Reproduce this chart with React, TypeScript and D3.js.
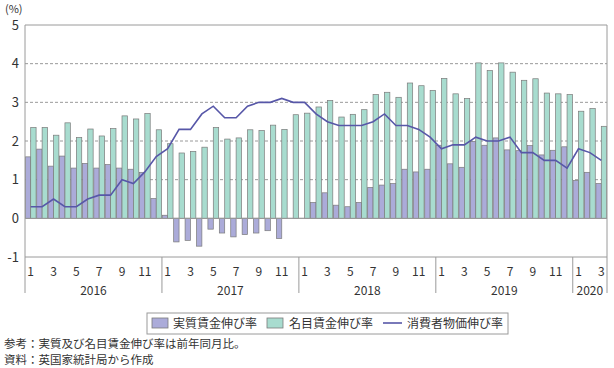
import React from 'react';
import * as d3 from 'd3';

const years = [2016, 2017, 2018, 2019, 2020];
const monthsPerYear = [12, 12, 12, 12, 3];

// 実質賃金伸び率 (Jan 2016 - Mar 2020)
const realWage = [
  1.59, 1.79, 1.35, 1.61, 1.30, 1.42, 1.30, 1.39, 1.30, 1.27, 1.19, 0.51,
  0.08, -0.61, -0.57, -0.72, -0.28, -0.38, -0.48, -0.42, -0.38, -0.32, -0.52, 0.0,
  0.0, 0.41, 0.66, 0.34, 0.30, 0.41, 0.80, 0.86, 0.90, 1.27, 1.20, 1.27,
  1.89, 1.41, 1.32, 1.99, 1.89, 2.08, 1.77, 1.75, 1.88, 1.64, 1.76, 1.85,
  0.98, 1.19, 0.90,
];

// 名目賃金伸び率
const nominalWage = [
  2.35, 2.35, 2.15, 2.47, 2.09, 2.31, 2.13, 2.32, 2.65, 2.57, 2.71, 2.29,
  1.93, 1.69, 1.73, 1.84, 2.35, 2.05, 2.08, 2.29, 2.27, 2.41, 2.30, 2.68,
  2.72, 2.88, 3.05, 2.62, 2.69, 2.81, 3.20, 3.26, 3.13, 3.50, 3.43, 3.31,
  3.62, 3.22, 3.10, 4.02, 3.82, 4.02, 3.78, 3.57, 3.61, 3.24, 3.22, 3.20,
  2.77, 2.84, 2.38,
];

// 消費者物価伸び率
const cpi = [
  0.3, 0.3, 0.5, 0.3, 0.3, 0.5, 0.6, 0.6, 1.0, 0.9, 1.2, 1.6,
  1.8, 2.3, 2.3, 2.7, 2.9, 2.6, 2.6, 2.9, 3.0, 3.0, 3.1, 3.0,
  3.0, 2.7, 2.5, 2.4, 2.4, 2.4, 2.5, 2.7, 2.4, 2.4, 2.3, 2.1,
  1.8, 1.9, 1.9, 2.1, 2.0, 2.0, 2.1, 1.7, 1.7, 1.5, 1.5, 1.3,
  1.8, 1.7, 1.5,
];

const yTicks = [-1, 0, 1, 2, 3, 4, 5];
const legendLabels = ['実質賃金伸び率', '名目賃金伸び率', '消費者物価伸び率'];
const notes = ['参考：実質及び名目賃金伸び率は前年同月比。', '資料：英国家統計局から作成'];

const colors = {
  real: '#ababd9',
  nominal: '#a8dccf',
  line: '#5757a8',
  barStroke: '#7a7a7a',
  axis: '#9a9a9a',
  text: '#333333',
};

const App = () => {
  const width = 614;
  const height = 368;
  const plot = { left: 25, right: 607, top: 25, bottom: 257 };

  const months: { year: number; month: number }[] = [];
  years.forEach((y, i) => {
    for (let m = 1; m <= monthsPerYear[i]; m++) months.push({ year: y, month: m });
  });
  const idx = months.map((_, i) => i);

  const x = d3.scaleBand<number>().domain(idx).range([plot.left, plot.right]).padding(0);
  const inner = d3.scaleBand<string>().domain(['real', 'nominal']).range([0, x.bandwidth()]).paddingOuter(0.06).paddingInner(0);
  const y = d3.scaleLinear().domain([-1, 5]).range([plot.bottom, plot.top]);

  const line = d3.line<number>()
    .x((_, i) => (x(i) as number) + x.bandwidth() / 2)
    .y(d => y(d));

  // year boundaries
  const yearStarts: number[] = [];
  let acc = 0;
  monthsPerYear.forEach(n => { yearStarts.push(acc); acc += n; });

  const font = '"Noto Sans CJK JP", "Noto Sans", sans-serif';

  return (
    <div style={{ position: 'absolute', left: 0, top: 0 }}>
      <svg width={width} height={height} style={{ display: 'block', fontFamily: font }}>
        <rect width={width} height={height} fill="#fff" />
        {/* grid */}
        {yTicks.map(t => (
          <line key={t} x1={plot.left} x2={plot.right} y1={y(t)} y2={y(t)}
            stroke={colors.axis}
            strokeDasharray={t === 0 || t === 5 || t === -1 ? undefined : '3 2'}
            strokeWidth={1} />
        ))}
        {yTicks.map(t => (
          <text key={'l' + t} x={19} y={y(t)} dy="0.35em" textAnchor="end" fontSize={13} fill={colors.text}>{t}</text>
        ))}
        <text x={5} y={13} fontSize={11} fill={colors.text}>(%)</text>

        {/* bars */}
        {realWage.map((v, i) => v === 0 ? null : (
          <rect key={'r' + i} x={(x(i) as number) + (inner('real') as number)} width={inner.bandwidth()}
            y={y(Math.max(0, v))} height={Math.abs(y(v) - y(0))}
            fill={colors.real} stroke={colors.barStroke} strokeWidth={0.7} />
        ))}
        {nominalWage.map((v, i) => (
          <rect key={'n' + i} x={(x(i) as number) + (inner('nominal') as number)} width={inner.bandwidth()}
            y={y(Math.max(0, v))} height={Math.abs(y(v) - y(0))}
            fill={colors.nominal} stroke={colors.barStroke} strokeWidth={0.7} />
        ))}
        <line x1={plot.left} x2={plot.right} y1={y(0)} y2={y(0)} stroke={colors.axis} />
        <path d={line(cpi) as string} fill="none" stroke={colors.line} strokeWidth={1.6} />

        {/* frame */}
        <line x1={plot.left} x2={plot.left} y1={plot.top} y2={293} stroke={colors.axis} />
        <line x1={plot.right} x2={plot.right} y1={plot.top} y2={293} stroke={colors.axis} />

        {/* month labels */}
        {months.map((m, i) => m.month % 2 === 1 ? (
          <text key={'m' + i} x={(x(i) as number) + x.bandwidth() / 2} y={276} textAnchor="middle" fontSize={12} fill={colors.text}>{m.month}</text>
        ) : null)}
        {/* year separators and labels */}
        {yearStarts.map((s, i) => {
          const x0 = x(s) as number;
          const n = monthsPerYear[i];
          const x1 = i === years.length - 1 ? plot.right : (x(s + n) as number);
          return (
            <g key={'y' + i}>
              {i > 0 && <line x1={x0} x2={x0} y1={plot.bottom} y2={293} stroke={colors.axis} />}
              <text x={(x0 + x1) / 2} y={295} textAnchor="middle" fontSize={12} fill={colors.text}>{years[i]}</text>
            </g>
          );
        })}

        {/* legend */}
        <g>
          <rect x={147} y={313} width={361} height={21} fill="#fff" stroke={colors.axis} />
          <rect x={152} y={318} width={16} height={10} fill={colors.real} stroke={colors.barStroke} strokeWidth={0.8} />
          <text x={173} y={328} fontSize={12} fill={colors.text}>{legendLabels[0]}</text>
          <rect x={267} y={318} width={16} height={10} fill={colors.nominal} stroke={colors.barStroke} strokeWidth={0.8} />
          <text x={289} y={328} fontSize={12} fill={colors.text}>{legendLabels[1]}</text>
          <line x1={383} x2={402} y1={323} y2={323} stroke={colors.line} strokeWidth={1.6} />
          <text x={407} y={328} fontSize={12} fill={colors.text}>{legendLabels[2]}</text>
        </g>

        {notes.map((t, i) => (
          <text key={'note' + i} x={4} y={348 + i * 16} fontSize={11.5} fill={colors.text}>{t}</text>
        ))}
      </svg>
    </div>
  );
};

export default App;
